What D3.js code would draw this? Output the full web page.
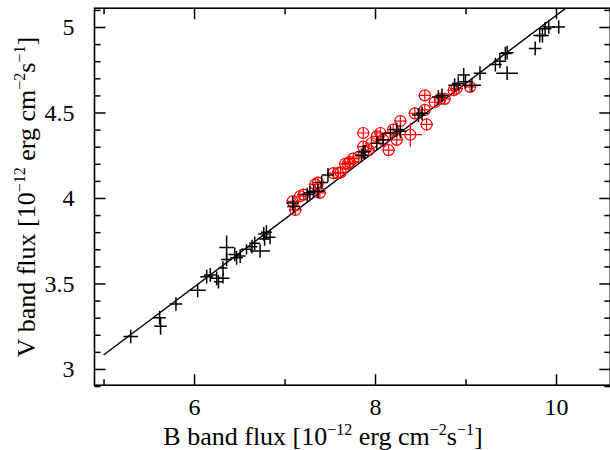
<!DOCTYPE html>
<html><head><meta charset="utf-8">
<script src="https://cdn.jsdelivr.net/npm/d3@7"></script>
<style>body{margin:0;background:#fff}svg{display:block}</style>
</head><body>
<svg id="c" width="610" height="450"></svg>
<script>
// Black data (plus markers with error bars): B flux, V flux, B err, V err
const blackB = [5.30,5.62,5.63,5.80,6.04,6.14,6.18,6.25,6.32,6.27,6.32,6.36,6.36,6.45,6.47,6.51,6.58,6.64,6.67,6.73,6.77,6.80,6.84,6.78,
  7.09,7.10,7.25,7.28,7.32,7.37,7.41,7.48,7.85,7.89,7.87,8.02,8.09,8.17,8.24,8.28,8.48,8.52,8.70,8.74,8.88,8.92,8.98,9.00,9.07,9.16,9.33,9.46,9.38,9.44,9.46,9.77,9.82,9.85,9.88,9.92,10.03];
const blackV = [3.19,3.30,3.25,3.38,3.46,3.54,3.55,3.53,3.53,3.51,3.59,3.71,3.64,3.67,3.65,3.66,3.70,3.715,3.735,3.69,3.79,3.80,3.77,3.76,
  3.97,3.95,4.02,4.03,4.04,4.04,4.09,4.135,4.25,4.27,4.27,4.32,4.34,4.38,4.40,4.39,4.485,4.495,4.59,4.60,4.66,4.67,4.72,4.68,4.66,4.73,4.78,4.73,4.80,4.845,4.85,4.875,4.95,4.95,4.99,5.00,5.00];
const blackBerr = [0.08,0.07,0.07,0.07,0.09,0.07,0.07,0.07,0.07,0.05,0.05,0.08,0.06,0.07,0.07,0.06,0.06,0.06,0.06,0.11,0.06,0.06,0.06,0.06,
  0.07,0.07,0.07,0.07,0.07,0.07,0.07,0.07,0.07,0.07,0.07,0.07,0.07,0.07,0.07,0.07,0.07,0.07,0.07,0.07,0.07,0.07,0.07,0.07,0.10,0.07,0.07,0.12,0.07,0.07,0.07,0.07,0.07,0.07,0.07,0.07,0.07];
const blackVerr = [0.04,0.04,0.05,0.04,0.04,0.04,0.04,0.04,0.03,0.04,0.04,0.07,0.04,0.04,0.04,0.04,0.03,0.04,0.04,0.04,0.04,0.04,0.04,0.04,
  0.04,0.04,0.04,0.04,0.04,0.04,0.04,0.04,0.04,0.04,0.04,0.04,0.04,0.04,0.04,0.04,0.04,0.04,0.04,0.04,0.04,0.04,0.04,0.04,0.04,0.04,0.04,0.04,0.04,0.04,0.04,0.04,0.04,0.04,0.04,0.04,0.04];

// Red data (circle markers with error bars)
const redB = [7.09,7.12,7.17,7.21,7.34,7.37,7.39,7.54,7.59,7.62,7.67,7.70,7.72,7.76,7.82,7.87,7.87,7.93,7.96,8.02,8.06,8.09,8.15,8.20,8.24,8.28,8.39,8.44,8.57,8.55,8.55,8.66,8.72,8.77,8.87,8.90,9.05];
const redV = [3.98,3.93,4.01,4.02,4.08,4.09,4.03,4.145,4.145,4.15,4.20,4.20,4.21,4.23,4.24,4.38,4.30,4.28,4.32,4.36,4.38,4.34,4.28,4.40,4.34,4.45,4.37,4.495,4.43,4.60,4.515,4.56,4.58,4.58,4.63,4.64,4.65];
const redBerr = [0.07,0.07,0.07,0.07,0.07,0.07,0.07,0.07,0.07,0.07,0.07,0.07,0.07,0.07,0.07,0.07,0.07,0.07,0.07,0.07,0.07,0.07,0.07,0.07,0.07,0.07,0.13,0.07,0.07,0.07,0.07,0.07,0.07,0.07,0.07,0.07,0.07];
const redVerr = [0.035,0.035,0.035,0.035,0.035,0.035,0.035,0.035,0.035,0.035,0.035,0.035,0.035,0.035,0.035,0.035,0.035,0.035,0.035,0.035,0.035,0.035,0.035,0.035,0.035,0.035,0.07,0.035,0.035,0.035,0.035,0.035,0.035,0.035,0.035,0.035,0.035];

// Fitted line V = a + b * B
const fitIntercept = 1.097, fitSlope = 0.397;
const fitRange = [5, 10.6];

const xMajor = [6, 8, 10];
const xMinor = [5, 7, 9];
const yMajor = [3, 3.5, 4, 4.5, 5];
const yMinor = d3.range(29, 52).map(d => d / 10).filter(d => !yMajor.some(m => Math.abs(m - d) < 1e-9));

const xDomain = [4.9, 10.6], yDomain = [2.905, 5.11];

const svg = d3.select("#c");
const pL = 94.5, pR = 610.3, pT = 8.2, pB = 385.2;
const x = d3.scaleLinear().domain(xDomain).range([pL, pR]);
const y = d3.scaleLinear().domain(yDomain).range([pB, pT]);
const font = "'Liberation Serif','Times New Roman',serif";

svg.append("defs").append("clipPath").attr("id", "clip")
  .append("rect").attr("x", pL).attr("y", pT).attr("width", pR - pL).attr("height", pB - pT);

function styleAxis(g) {
  g.select(".domain").remove();
  g.selectAll("line").attr("stroke", "#000").attr("stroke-width", 1.5);
  g.selectAll("text").attr("font-family", font).attr("font-size", 24).attr("fill", "#000");
}
const MJ = 11, MN = 6;
// bottom
svg.append("g").attr("transform", `translate(0,${pB})`)
  .call(d3.axisBottom(x).tickValues(xMajor).tickSize(-MJ).tickPadding(13).tickFormat(d3.format("d"))).call(styleAxis);
svg.append("g").attr("transform", `translate(0,${pB})`)
  .call(d3.axisBottom(x).tickValues(xMinor).tickSize(-MN).tickFormat("")).call(styleAxis);
// top
svg.append("g").attr("transform", `translate(0,${pT})`)
  .call(d3.axisTop(x).tickValues(xMajor).tickSize(-MJ).tickFormat("")).call(styleAxis);
svg.append("g").attr("transform", `translate(0,${pT})`)
  .call(d3.axisTop(x).tickValues(xMinor).tickSize(-MN).tickFormat("")).call(styleAxis);
// left
svg.append("g").attr("transform", `translate(${pL},0)`)
  .call(d3.axisLeft(y).tickValues(yMajor).tickSize(-MJ).tickPadding(20).tickFormat(d => d3.format("")(d))).call(styleAxis);
svg.append("g").attr("transform", `translate(${pL},0)`)
  .call(d3.axisLeft(y).tickValues(yMinor).tickSize(-MN).tickFormat("")).call(styleAxis);
// right
svg.append("g").attr("transform", `translate(${pR},0)`)
  .call(d3.axisRight(y).tickValues(yMajor).tickSize(-MJ).tickFormat("")).call(styleAxis);
svg.append("g").attr("transform", `translate(${pR},0)`)
  .call(d3.axisRight(y).tickValues(yMinor).tickSize(-MN).tickFormat("")).call(styleAxis);

// frame
svg.append("rect").attr("x", pL).attr("y", pT).attr("width", pR - pL).attr("height", pB - pT)
  .attr("fill", "none").attr("stroke", "#000").attr("stroke-width", 1.6);

const plot = svg.append("g").attr("clip-path", "url(#clip)");

// fit line
const line = d3.line().x(d => x(d)).y(d => y(fitIntercept + fitSlope * d));
plot.append("path").attr("d", line(fitRange)).attr("fill", "none").attr("stroke", "#000").attr("stroke-width", 1.4);

// red points
const red = redB.map((b, i) => ({b, v: redV[i], eb: redBerr[i], ev: redVerr[i]}));
const rg = plot.append("g").attr("stroke", "#ff0000").attr("stroke-width", 1.2).attr("fill", "none");
red.forEach(d => {
  rg.append("line").attr("x1", x(d.b - d.eb)).attr("x2", x(d.b + d.eb)).attr("y1", y(d.v)).attr("y2", y(d.v));
  rg.append("line").attr("x1", x(d.b)).attr("x2", x(d.b)).attr("y1", y(d.v - d.ev)).attr("y2", y(d.v + d.ev));
  rg.append("circle").attr("cx", x(d.b)).attr("cy", y(d.v)).attr("r", 5.5);
});

// black points
const black = blackB.map((b, i) => ({b, v: blackV[i], eb: blackBerr[i], ev: blackVerr[i]}));
const bg = plot.append("g").attr("stroke", "#000").attr("stroke-width", 1.5);
black.forEach(d => {
  bg.append("line").attr("x1", x(d.b - d.eb)).attr("x2", x(d.b + d.eb)).attr("y1", y(d.v)).attr("y2", y(d.v));
  bg.append("line").attr("x1", x(d.b)).attr("x2", x(d.b)).attr("y1", y(d.v - d.ev)).attr("y2", y(d.v + d.ev));
});

// axis titles
function title(t, lead) {
  t.append("tspan").text(lead);
  t.append("tspan").attr("font-size", 16).attr("dy", -10).text("−12");
  t.append("tspan").attr("dy", 10).text(" erg cm");
  t.append("tspan").attr("font-size", 16).attr("dy", -10).text("−2");
  t.append("tspan").attr("dy", 10).text("s");
  t.append("tspan").attr("font-size", 16).attr("dy", -10).text("−1");
  t.append("tspan").attr("dy", 10).text("]");
}
svg.append("text").attr("transform", `translate(323,445)`).attr("text-anchor", "middle")
  .attr("font-family", font).attr("font-size", 26).attr("fill", "#000")
  .call(title, "B band flux [10");
svg.append("text").attr("transform", `translate(35,197) rotate(-90)`).attr("text-anchor", "middle")
  .attr("font-family", font).attr("font-size", 26).attr("fill", "#000")
  .call(title, "V band flux [10");
</script>
</body></html>
